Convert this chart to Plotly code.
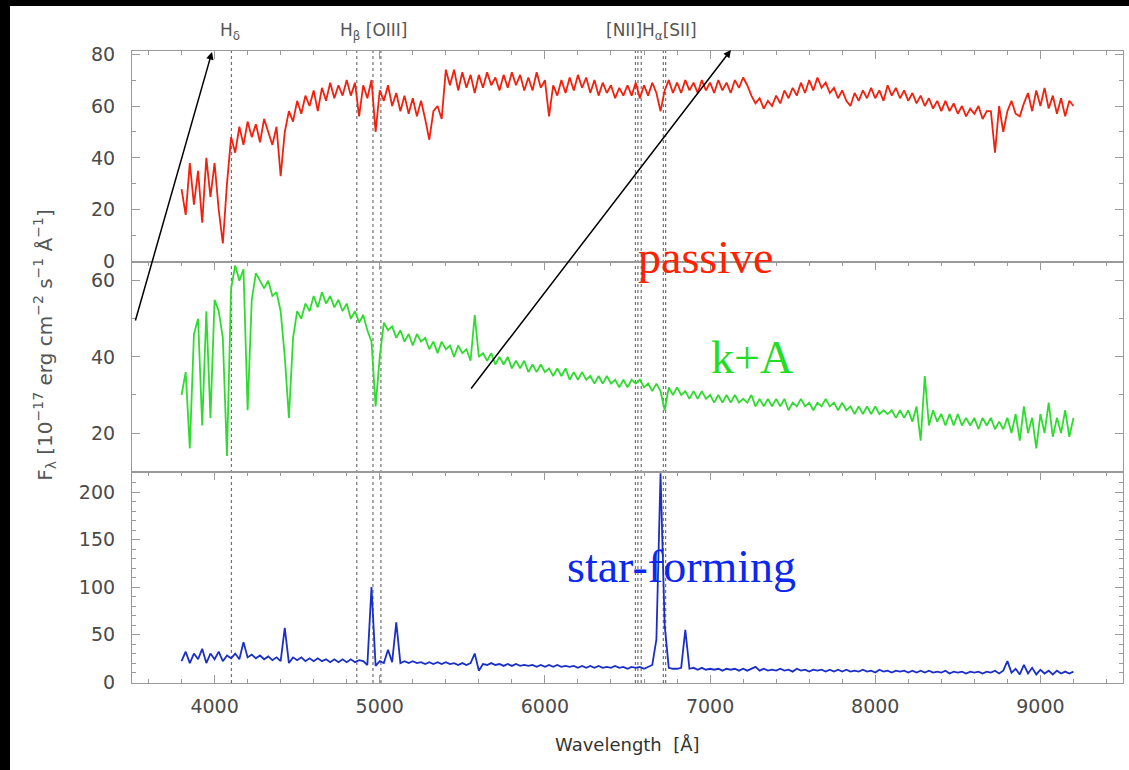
import plotly.graph_objects as go
from plotly.subplots import make_subplots

# sampling grid of the spectra (Angstrom)
wave = list(range(3800, 9201, 25))

passive = [
    28, 18, 38, 22, 35, 15, 40, 25, 38, 20, 7, 30, 48, 42, 52, 45, 54, 48, 53, 46,
    55, 50, 45, 52, 33, 50, 58, 54, 62, 57, 64, 60, 66, 58, 67, 62, 69, 63, 68, 64,
    70, 64, 69, 56, 68, 63, 70, 50, 66, 62, 68, 60, 65, 58, 64, 57, 63, 56, 62, 55,
    47, 58, 60, 55, 74, 68, 74, 66, 73, 67, 72, 65, 72, 67, 73, 68, 71, 66, 72, 67,
    73, 68, 72, 66, 71, 66, 73, 67, 70, 56, 68, 64, 70, 65, 71, 66, 72, 67, 71, 65,
    70, 64, 69, 65, 68, 63, 67, 64, 68, 64, 69, 63, 68, 64, 69, 65, 58, 66, 70, 65,
    69, 65, 70, 66, 69, 65, 70, 66, 69, 65, 70, 66, 69, 65, 70, 67, 71, 68, 64, 61,
    63, 59, 62, 60, 64, 61, 66, 63, 67, 64, 69, 65, 70, 66, 71, 67, 69, 65, 67, 63,
    66, 62, 60, 65, 62, 66, 63, 67, 63, 66, 62, 68, 64, 67, 63, 66, 62, 65, 61, 64,
    60, 63, 59, 62, 58, 62, 58, 61, 57, 60, 56, 59, 57, 60, 55, 58, 58, 42, 60, 50,
    58, 62, 57, 56, 61, 65, 58, 66, 60, 67, 59, 64, 57, 63, 56, 62, 60,
]

k_plus_a = [
    30, 36, 16, 46, 50, 22, 52, 24, 55, 52, 45, 14, 58, 64, 60, 63, 26, 55, 62, 60,
    58, 60, 56, 57, 52, 40, 24, 45, 52, 50, 54, 52, 56, 53, 57, 54, 56, 53, 55, 52,
    54, 50, 52, 49, 51, 47, 44, 27, 40, 49, 47, 48, 45, 47, 44, 46, 43, 46, 44, 45,
    42, 44, 41, 44, 42, 43, 40, 43, 41, 42, 39, 51, 40, 41, 39, 41, 38, 40, 38, 40,
    37, 39, 37, 39, 36, 38, 36, 38, 36, 37, 35, 37, 35, 37, 34, 36, 34, 36, 34, 35,
    33, 35, 33, 35, 33, 34, 32, 34, 32, 34, 33, 34, 32, 33, 31, 33, 31, 26, 32, 30,
    32, 30, 31, 29, 31, 29, 31, 29, 30, 28, 30, 28, 30, 28, 30, 28, 29, 28, 30, 27,
    29, 27, 29, 27, 29, 27, 29, 26, 28, 27, 29, 27, 28, 26, 28, 27, 29, 27, 28, 26,
    28, 26, 27, 25, 27, 25, 27, 25, 27, 25, 26, 25, 26, 24, 26, 24, 26, 23, 27, 18,
    35, 22, 26, 23, 25, 22, 25, 22, 25, 22, 24, 22, 24, 21, 24, 22, 24, 21, 23, 21,
    24, 20, 25, 18, 27, 20, 24, 16, 25, 20, 28, 19, 24, 20, 26, 19, 24,
]

star_forming = [
    22, 32, 20, 30, 24, 35, 20, 30, 24, 32, 22, 28, 25, 30, 24, 42, 26, 29, 25, 28,
    24, 27, 23, 26, 22, 57, 20, 26, 23, 26, 22, 25, 22, 25, 22, 24, 21, 24, 21, 24,
    21, 24, 21, 23, 22, 18, 100, 17, 22, 20, 34, 21, 63, 20, 22, 20, 22, 20, 21, 19,
    21, 19, 21, 19, 21, 19, 20, 18, 20, 18, 20, 30, 12, 19, 18, 20, 18, 19, 17, 19,
    17, 19, 17, 18, 17, 18, 16, 18, 16, 18, 16, 18, 16, 17, 16, 17, 15, 17, 15, 17,
    15, 17, 15, 16, 15, 17, 15, 16, 14, 16, 15, 16, 14, 16, 18, 45, 220, 60, 15, 14,
    14, 15, 55, 14, 15, 13, 15, 13, 14, 13, 14, 12, 14, 13, 14, 12, 14, 12, 14, 16,
    12, 14, 12, 13, 12, 14, 12, 13, 11, 14, 12, 13, 11, 13, 12, 13, 11, 13, 11, 13,
    11, 13, 11, 12, 11, 13, 11, 12, 10, 13, 11, 12, 10, 12, 11, 12, 10, 12, 10, 12,
    10, 12, 10, 11, 10, 12, 9, 11, 10, 11, 9, 11, 10, 11, 9, 11, 10, 12, 9, 12,
    22, 10, 14, 8, 18, 9, 15, 8, 13, 9, 12, 8, 12, 9, 11, 9, 11,
]

# emission/absorption line markers (rest wavelengths, Angstrom)
line_waves = [4102, 4861, 4959, 5007, 6548, 6563, 6583, 6717, 6731]
line_labels = ["H<sub>δ</sub>", "H<sub>β</sub> [OIII]", "[NII]H<sub>α</sub>[SII]"]
line_label_waves = [4091, 4960, 6643]

panel_names = ["passive", "k+A", "star-forming"]
panel_colors = ["#f2200c", "#2edc2e", "#1a2fc8"]
text_colors = ["#ff2200", "#22dd22", "#0a28f0"]

y_ranges = [[0, 81.2], [9.7, 65], [-1, 221]]
y_ticks = [[0, 20, 40, 60, 80], [20, 40, 60], [0, 50, 100, 150, 200]]

fig = make_subplots(rows=3, cols=1, shared_xaxes=True, vertical_spacing=0)

for i, series in enumerate([passive, k_plus_a, star_forming]):
    fig.add_trace(go.Scatter(x=wave, y=series, mode="lines",
                             line=dict(color=panel_colors[i], width=1.8),
                             showlegend=False, name=panel_names[i]),
                  row=i + 1, col=1)

axis_col = "#9a9a9a"
tick_font = dict(family="DejaVu Sans", size=19, color="#4a4a4a")

for i in range(3):
    last = (i == 2)
    fig.update_xaxes(row=i + 1, col=1, range=[3500, 9500], showgrid=False, zeroline=False,
                     showline=True, linecolor=axis_col, linewidth=1.2,
                     mirror="allticks" if last else True,
                     side="bottom" if last else "top",
                     ticks="inside", ticklen=8, tickwidth=1, tickcolor=axis_col,
                     dtick=1000, tick0=0, showticklabels=last, automargin=False,
                     minor=dict(dtick=200, ticklen=4, ticks="inside", tickcolor=axis_col),
                     tickfont=tick_font, ticklabelstandoff=6)
    fig.update_yaxes(row=i + 1, col=1, range=y_ranges[i], tickvals=y_ticks[i],
                     showgrid=False, zeroline=False, showline=True, linecolor=axis_col,
                     linewidth=1.2, mirror="allticks", ticks="inside", ticklen=8,
                     tickwidth=1, tickcolor=axis_col, automargin=False,
                     minor=dict(dtick=10, tick0=0, ticklen=4, ticks="inside", tickcolor=axis_col),
                     tickfont=tick_font, ticklabelstandoff=12)

# dotted line markers across all panels
for w in line_waves:
    fig.add_shape(type="line", xref="x", yref="paper", x0=w, x1=w, y0=0, y1=1,
                  line=dict(color="#707070", width=1.2, dash="dot"), layer="below")

annotations = []
for txt, w in zip(line_labels, line_label_waves):
    annotations.append(dict(text=txt, xref="x", yref="paper", x=w, y=1.0316,
                            showarrow=False, xanchor="center", yanchor="middle",
                            font=dict(family="DejaVu Sans", size=17, color="#555555")))

# big panel labels
label_pos = [(0.5792, 0.6725), (0.6256, 0.5158), (0.554, 0.1851)]
for name, col, (px, py) in zip(panel_names, text_colors, label_pos):
    annotations.append(dict(text=name, xref="paper", yref="paper", x=px, y=py,
                            showarrow=False, xanchor="center", yanchor="middle",
                            font=dict(family="Liberation Serif", size=46, color=col)))

# arrows
annotations.append(dict(text="", xref="paper", yref="paper", x=0.0807, y=0.9984,
                        ax=-77, ay=270, showarrow=True, arrowhead=2, arrowsize=1,
                        arrowwidth=1.5, arrowcolor="black", standoff=0))
annotations.append(dict(text="", xref="paper", yref="paper", x=0.6044, y=1.0016,
                        ax=-261, ay=340, showarrow=True, arrowhead=2, arrowsize=1,
                        arrowwidth=1.5, arrowcolor="black", standoff=0))

# axis titles
annotations.append(dict(text="Wavelength  [Å]", xref="paper", yref="paper",
                        x=0.5005, y=-0.098, showarrow=False, xanchor="center", yanchor="middle",
                        font=dict(family="DejaVu Sans", size=18, color="#333333")))
annotations.append(dict(text="F<sub>λ</sub> [10<sup>−17</sup> erg cm<sup>−2</sup> s<sup>−1</sup> Å<sup>−1</sup>]",
                        xref="paper", yref="paper", x=-0.0878, y=0.535, textangle=-90,
                        showarrow=False, xanchor="center", yanchor="middle",
                        font=dict(family="DejaVu Sans", size=20, color="#555555")))

# black frame strips at top and left edge of the picture
fig.add_shape(type="rect", xref="paper", yref="paper", x0=-0.14, x1=1.0061,
              y0=1.0712, y1=1.10, fillcolor="black", line=dict(width=0), layer="above")
fig.add_shape(type="rect", xref="paper", yref="paper", x0=-0.14, x1=-0.1231,
              y0=-0.15, y1=1.10, fillcolor="black", line=dict(width=0), layer="above")

fig.update_layout(width=1129, height=770, margin=dict(l=132, r=6, t=51, b=87),
                  paper_bgcolor="white", plot_bgcolor="white",
                  annotations=annotations, showlegend=False)

fig.write_html("out.html", config={"displayModeBar": False},
               post_script="document.body.style.margin='0';document.body.style.overflow='hidden';")
